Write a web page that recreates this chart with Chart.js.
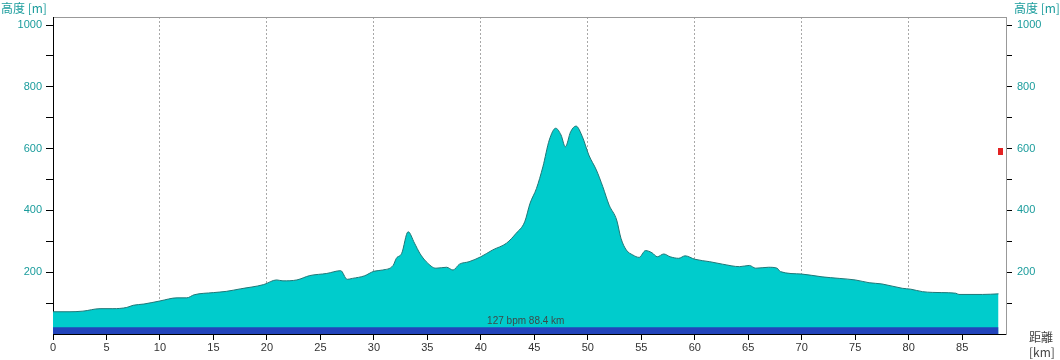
<!DOCTYPE html>
<html>
<head>
<meta charset="utf-8">
<script src="https://cdn.jsdelivr.net/npm/chart.js@4.4.1/dist/chart.umd.min.js"></script>
<style>
  body { margin: 0; background: #fff; }
  #wrap { position: relative; width: 1060px; height: 360px; }
  .lbl { position: absolute; font-family: "Noto Sans CJK JP", sans-serif; font-size: 12px; line-height: 1; white-space: nowrap; }
  .teal { color: #1a9c9c; }
  .grey { color: #444; }
</style>
</head>
<body>
<div id="wrap">
  <canvas id="profile"></canvas>
  <span class="lbl teal" style="left:1px; top:2px;">高度 [m]</span>
  <span class="lbl teal" style="left:1014px; top:2px;">高度 [m]</span>
  <span class="lbl grey" style="left:1029px; top:331px;">距離</span>
  <span class="lbl grey" style="left:1029px; top:346px;">[km]</span>
</div>
<script>
// distance along route (km) and elevation (m)
const distKm = [
  0, 1.5, 2.8, 4.4, 5.6, 6.9, 7.5, 8.5, 10, 11.6, 12.5, 13.2, 15, 16.2, 17.5, 19.7,
  20.9, 21.5, 22.8, 24, 25.6, 26.9, 27.5, 28, 29.1, 30, 30.8, 31.8, 32.1, 32.6, 33.2,
  33.8, 34.3, 34.9, 35.8, 36.8, 37.4, 38, 38.9, 40, 41.1, 42.4, 43.3, 44.1, 44.6,
  45.2, 45.8, 46.4, 47.0, 47.5, 47.9, 48.4, 48.9, 49.5, 50.1, 50.8, 51.4, 52.0,
  52.7, 53.1, 53.6, 54.2, 54.8, 55.4, 56.0, 56.5, 57.1, 57.7, 58.5, 59.1, 60,
  61.4, 62.6, 64.2, 65.1, 65.7, 66.9, 67.7, 68, 70, 71.9, 73.5, 75, 76.3, 77.5,
  79.4, 80.2, 81.3, 83.1, 84.4, 84.7, 86.9, 88.4
];
const elevM = [
  72, 72, 74, 82, 82, 86, 93, 97, 107, 117, 117, 127, 134, 138, 146, 160,
  175, 172, 175, 189, 196, 205, 177, 180, 188, 203, 207, 222, 245, 261, 331,
  294, 261, 234, 213, 216, 207, 226, 234, 250, 272, 294, 326, 363, 423,
  471, 541, 628, 666, 644, 606, 655, 673, 638, 579, 531, 477, 417,
  369, 310, 272, 256, 248, 270, 263, 250, 259, 250, 245, 253, 242,
  234, 226, 218, 222, 213, 216, 213, 202, 194, 185, 180, 175, 166, 162,
  148, 145, 137, 134, 132, 128, 128, 130
];

// heart-rate band along the bottom
const bandKm = [0, 88.4];
const bandM = [22, 22];
const bandText = "127 bpm 88.4 km";

// current position marker
const markerKm = [88.55];
const markerM = [590];

// axis ticks
const xTicks = [0, 5, 10, 15, 20, 25, 30, 35, 40, 45, 50, 55, 60, 65, 70, 75, 80, 85];
const yTicks = [100, 200, 300, 400, 500, 600, 700, 800, 900, 1000];
const yLabelled = [200, 400, 600, 800, 1000];

const xMax = 89.1;
const yMax = 1026;
const teal = "#1a9c9c";
const tickFont = { family: "Liberation Sans, Arial, sans-serif", size: 11 };

const toPoints = (xs, ys) => xs.map((x, i) => ({ x, y: ys[i] }));
const setTicks = (values) => (s) => { s.ticks = values.map((value) => ({ value })); };

const marker = document.createElement("canvas");
marker.width = 5;
marker.height = 7;
const mctx = marker.getContext("2d");
mctx.fillStyle = "#e32222";
mctx.fillRect(0, 0, 5, 7);

const bandLabel = {
  id: "bandLabel",
  afterDatasetsDraw(chart) {
    const { ctx, scales } = chart;
    const x = scales.x.getPixelForValue((bandKm[0] + bandKm[1]) / 2);
    const y = scales.y.getPixelForValue(bandM[0]) - 1;
    ctx.save();
    ctx.font = "10px Liberation Sans, Arial, sans-serif";
    ctx.fillStyle = "#3c4a4a";
    ctx.textAlign = "center";
    ctx.textBaseline = "bottom";
    ctx.fillText(bandText, x, y);
    ctx.restore();
  }
};

const yAxis = (position, width, tickLength, padding, borderColor) => ({
  position,
  min: 0,
  max: yMax,
  afterBuildTicks: setTicks(yTicks),
  afterFit: (s) => { s.width = width; },
  ticks: {
    color: teal,
    font: tickFont,
    padding,
    callback: (v) => (yLabelled.includes(v) ? v : "")
  },
  grid: { drawOnChartArea: false, tickColor: "#000", tickLength },
  border: { color: borderColor }
});

new Chart(document.getElementById("profile"), {
  type: "line",
  data: {
    datasets: [
      {
        data: toPoints(markerKm, markerM),
        showLine: false,
        pointStyle: marker,
        pointRadius: 4
      },
      {
        data: toPoints(bandKm, bandM),
        fill: "origin",
        backgroundColor: "#2244bb",
        borderWidth: 0,
        pointRadius: 0
      },
      {
        data: toPoints(distKm, elevM),
        fill: "origin",
        backgroundColor: "#00cccc",
        borderColor: "#1f7777",
        borderWidth: 1,
        pointRadius: 0,
        cubicInterpolationMode: "monotone"
      }
    ]
  },
  options: {
    responsive: true,
    maintainAspectRatio: false,
    animation: false,
    layout: { padding: 0 },
    plugins: { legend: { display: false }, tooltip: { enabled: false } },
    scales: {
      x: {
        type: "linear",
        position: "bottom",
        min: 0,
        max: xMax,
        afterBuildTicks: setTicks(xTicks),
        afterFit: (s) => { s.height = 26; },
        ticks: { color: "#333", font: tickFont, padding: 1, maxRotation: 0, autoSkip: false },
        grid: {
          color: (c) => (c.tick && c.tick.value > 0 && c.tick.value % 10 === 0 ? "#a8a8a8" : "rgba(0,0,0,0)"),
          borderDash: [2, 2],
          tickColor: "#000",
          tickLength: 6
        },
        border: { color: "#000", dash: [2, 2] }
      },
      xTop: {
        type: "linear",
        position: "top",
        min: 0,
        max: xMax,
        afterFit: (s) => { s.height = 17; },
        ticks: { display: false },
        grid: { drawOnChartArea: false, drawTicks: false },
        border: { color: "#999" }
      },
      y: yAxis("left", 53, 7, 4, "#000"),
      y2: yAxis("right", 54, 6, 5, "#999")
    }
  },
  plugins: [bandLabel]
});
</script>
</body>
</html>
